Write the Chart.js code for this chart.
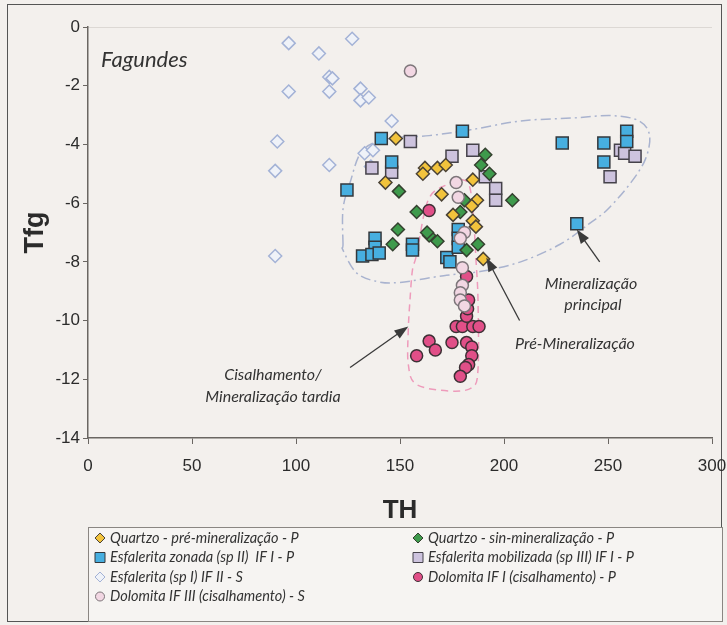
<!DOCTYPE html>
<html>
<head>
<meta charset="utf-8">
<script src="https://cdn.jsdelivr.net/npm/chart.js"></script>
<style>
  body { margin: 0; background: #f3f0ed; }
  #wrap { width: 727px; height: 625px; }
</style>
</head>
<body>
<div id="wrap"><canvas id="myChart" width="727" height="625"></canvas></div>
<script>
// data: [TH, Tfg]
const quartzoPre = [[148,-3.8],[162,-4.8],[161,-5.0],[168,-4.8],[172,-4.7],[143,-5.3],[185,-5.2],[170,-5.7],[187,-5.9],[184.5,-6.1],[175.5,-6.4],[185,-6.6],[186.5,-6.8],[190,-7.9]];
const quartzoSin = [[149.5,-5.6],[189,-4.7],[191,-4.35],[193,-5.0],[181,-5.9],[179,-6.3],[158,-6.3],[149,-6.9],[146.5,-7.4],[164,-7.1],[168,-7.3],[187.5,-7.4],[182,-7.6],[204,-5.9],[163,-7.0]];
const esfZonada = [[141,-3.8],[180,-3.55],[146,-4.6],[124.5,-5.55],[138,-7.2],[138,-7.5],[156,-7.4],[156,-7.6],[132,-7.8],[136.5,-7.75],[140,-7.7],[172.5,-7.85],[174,-8.0],[178,-6.9],[178,-7.2],[178,-7.5],[228,-3.95],[248,-3.95],[248,-4.6],[259,-3.55],[259,-3.9],[235,-6.7]];
const esfMobilizada = [[155,-3.9],[175,-4.4],[185,-4.2],[146,-4.95],[136.5,-4.8],[191,-5.1],[196,-5.5],[196,-5.9],[251,-5.1],[256,-4.2],[258,-4.3],[263,-4.4]];
const esfSpI = [[96.5,-0.55],[127,-0.4],[111,-0.9],[116,-1.7],[117.5,-1.75],[96.5,-2.2],[116,-2.2],[131,-2.1],[131,-2.5],[135,-2.4],[146,-3.2],[91,-3.9],[90,-4.9],[90,-7.8],[116,-4.7],[133,-4.3],[137,-4.2],[136,-4.75]];
const dolomitaI = [[164,-6.25],[182,-8.5],[158,-11.2],[164,-10.7],[167,-11.0],[177,-10.2],[180,-10.2],[185,-10.2],[188,-10.2],[182,-9.85],[182.5,-9.6],[175,-10.75],[182,-10.75],[184.5,-10.9],[184.5,-11.2],[183,-11.5],[181.5,-11.6],[179,-11.9],[183,-9.3]];
const dolomitaIII = [[155,-1.5],[177,-5.3],[178,-5.8],[181,-7.0],[179,-7.2],[180,-8.2],[180,-8.8],[179,-9.05],[179,-9.3],[181,-9.5]];

const xTicks = [0, 50, 100, 150, 200, 250, 300];
const yTicks = [0, -2, -4, -6, -8, -10, -12, -14];

const seriesNames = [
  "Quartzo - pré-mineralização - P",
  "Quartzo - sin-mineralização - P",
  "Esfalerita zonada (sp II)  IF I - P",
  "Esfalerita mobilizada (sp III) IF I - P",
  "Esfalerita (sp I) IF II - S",
  "Dolomita IF I (cisalhamento) - P",
  "Dolomita IF III (cisalhamento) - S"
];

// outlines drawn on the plot, in data units
const outlinePrincipal = [[122.6,-7.4],[122.6,-6.2],[126,-5.3],[132,-4.2],[145,-3.8],[164,-3.7],[184,-3.5],[208,-3.2],[233,-3.1],[252,-3.02],[265,-3.2],[270,-3.7],[268,-4.5],[261,-5.3],[250,-6.2],[241,-6.7],[227,-7.4],[208,-8.0],[188.5,-8.33],[171,-8.47],[150,-8.7],[139,-8.67],[129,-8.37],[122.6,-7.6]];
const outlineDolomita = [[158,-7.75],[163.5,-5.9],[172.5,-5.37],[180,-5.2],[183.7,-5.5],[185.6,-6.8],[186.5,-7.9],[187.5,-9.3],[187.5,-11.67],[184.6,-12.28],[174,-12.4],[158,-12.18],[154,-11.5],[154,-10.3],[154.8,-9.3],[156,-8.27]];

const toXY = arr => arr.map(p => ({x: p[0], y: p[1]}));

const pointStyles = [
  {pointStyle: "rectRot", radius: 6.5, backgroundColor: "#f2c33c", borderColor: "#4a4235"},
  {pointStyle: "rectRot", radius: 6.5, backgroundColor: "#3e9a4c", borderColor: "#34402f"},
  {pointStyle: "rect", radius: 8.5, backgroundColor: "#47afe0", borderColor: "#34383c"},
  {pointStyle: "rect", radius: 8.5, backgroundColor: "#cdc3de", borderColor: "#45424a"},
  {pointStyle: "rectRot", radius: 6.5, backgroundColor: "#eff2f8", borderColor: "#a3b2d6"},
  {pointStyle: "circle", radius: 6, backgroundColor: "#e14f88", borderColor: "#3d3035"},
  {pointStyle: "circle", radius: 6, backgroundColor: "#f2d7e3", borderColor: "#7d767a"}
];
const seriesData = [quartzoPre, quartzoSin, esfZonada, esfMobilizada, esfSpI, dolomitaI, dolomitaIII];
const drawOrder = [2, 3, 4, 5, 7, 1, 0];

const datasets = seriesData.map((d, i) => ({
  label: seriesNames[i],
  data: toXY(d),
  pointStyle: pointStyles[i].pointStyle,
  pointRadius: pointStyles[i].radius,
  pointHoverRadius: pointStyles[i].radius,
  pointBackgroundColor: pointStyles[i].backgroundColor,
  pointBorderColor: pointStyles[i].borderColor,
  backgroundColor: pointStyles[i].backgroundColor,
  borderColor: pointStyles[i].borderColor,
  pointBorderWidth: 1.5,
  order: drawOrder[i]
}));

function dashedShape(ctx, chart, pts, color, dash) {
  const xs = chart.scales.x, ys = chart.scales.y;
  const p = pts.map(q => [xs.getPixelForValue(q[0]), ys.getPixelForValue(q[1])]);
  ctx.save();
  ctx.strokeStyle = color;
  ctx.lineWidth = 1.5;
  ctx.setLineDash(dash);
  ctx.beginPath();
  // smooth closed curve through the points
  const n = p.length;
  for (let i = 0; i < n; i++) {
    const p0 = p[(i - 1 + n) % n], p1 = p[i], p2 = p[(i + 1) % n], p3 = p[(i + 2) % n];
    if (i === 0) ctx.moveTo(p1[0], p1[1]);
    ctx.bezierCurveTo(
      p1[0] + (p2[0] - p0[0]) / 6, p1[1] + (p2[1] - p0[1]) / 6,
      p2[0] - (p3[0] - p1[0]) / 6, p2[1] - (p3[1] - p1[1]) / 6,
      p2[0], p2[1]);
  }
  ctx.stroke();
  ctx.restore();
}

function arrow(ctx, chart, from, to) {
  const xs = chart.scales.x, ys = chart.scales.y;
  const x1 = xs.getPixelForValue(from[0]), y1 = ys.getPixelForValue(from[1]);
  const x2 = xs.getPixelForValue(to[0]), y2 = ys.getPixelForValue(to[1]);
  const a = Math.atan2(y2 - y1, x2 - x1);
  ctx.save();
  ctx.strokeStyle = "#3a3a3a";
  ctx.fillStyle = "#3a3a3a";
  ctx.lineWidth = 1.3;
  ctx.beginPath();
  ctx.moveTo(x1, y1);
  ctx.lineTo(x2 - 8 * Math.cos(a), y2 - 8 * Math.sin(a));
  ctx.stroke();
  ctx.beginPath();
  ctx.moveTo(x2, y2);
  ctx.lineTo(x2 - 14 * Math.cos(a) + 5 * Math.sin(a), y2 - 14 * Math.sin(a) - 5 * Math.cos(a));
  ctx.lineTo(x2 - 14 * Math.cos(a) - 5 * Math.sin(a), y2 - 14 * Math.sin(a) + 5 * Math.cos(a));
  ctx.closePath();
  ctx.fill();
  ctx.restore();
}

const decorations = {
  id: "decorations",
  beforeDraw(chart) {
    const ctx = chart.ctx;
    ctx.save();
    ctx.fillStyle = "#f3f0ed";
    ctx.fillRect(0, 0, chart.width, chart.height);
    // outer frame
    ctx.strokeStyle = "#555";
    ctx.lineWidth = 1;
    ctx.strokeRect(7.5, 4.5, 714, 617);
    // faint top edge of plot
    const a = chart.chartArea;
    ctx.strokeStyle = "#dcd8d4";
    ctx.beginPath();
    ctx.moveTo(a.left, a.top + 0.5);
    ctx.lineTo(a.right, a.top + 0.5);
    ctx.stroke();
    ctx.restore();
  },
  beforeDatasetsDraw(chart) {
    const ctx = chart.ctx;
    dashedShape(ctx, chart, outlinePrincipal, "#a9b3cf", [10, 4, 2, 4]);
    dashedShape(ctx, chart, outlineDolomita, "#ee9bbb", [7, 5]);
  },
  afterDatasetsDraw(chart) {
    const ctx = chart.ctx;
    arrow(ctx, chart, [246, -8.0], [235, -6.9]);
    arrow(ctx, chart, [207.5, -10.0], [191.5, -7.85]);
    arrow(ctx, chart, [126, -11.6], [154, -10.2]);

    ctx.save();
    ctx.fillStyle = "#333";
    ctx.textBaseline = "middle";
    ctx.font = "italic 22px Lato";
    ctx.textAlign = "left";
    ctx.fillText("Fagundes", 101, 60);
    ctx.font = "italic 16px Lato";
    ctx.textAlign = "center";
    ctx.fillText("Mineralização", 591, 284);
    ctx.fillText("principal", 593, 305);
    ctx.fillText("Pré-Mineralização", 575, 344);
    ctx.fillText("Cisalhamento/", 273, 375);
    ctx.fillText("Mineralização tardia", 273, 397);
    ctx.restore();
  },
  afterDraw(chart) {
    const ctx = chart.ctx;
    ctx.save();
    const bx = 88, by = 527, bw = 634, bh = 94;
    ctx.fillStyle = "#f6f4f2";
    ctx.fillRect(bx, by, bw, bh);
    ctx.strokeStyle = "#8a8682";
    ctx.lineWidth = 1;
    ctx.strokeRect(bx + 0.5, by + 0.5, bw, bh);
    const cols = [100, 418];
    const rows = [538, 557.5, 577, 596.5];
    ctx.font = "italic 14.5px Lato";
    ctx.textBaseline = "middle";
    ctx.textAlign = "left";
    chart.data.datasets.forEach((ds, i) => {
      const x = cols[i % 2], y = rows[Math.floor(i / 2)];
      ctx.fillStyle = ds.pointBackgroundColor;
      ctx.strokeStyle = ds.pointBorderColor;
      ctx.lineWidth = 1;
      ctx.beginPath();
      if (ds.pointStyle === "rect") ctx.rect(x - 5, y - 5, 10, 10);
      else if (ds.pointStyle === "circle") ctx.arc(x, y, 4.5, 0, Math.PI * 2);
      else { ctx.moveTo(x, y - 5); ctx.lineTo(x + 5, y); ctx.lineTo(x, y + 5); ctx.lineTo(x - 5, y); ctx.closePath(); }
      ctx.fill();
      ctx.stroke();
      ctx.fillStyle = "#333";
      ctx.fillText(ds.label, x + 10, y);
    });
    ctx.restore();
  }
};

let myChart = document.getElementById("myChart").getContext("2d");

Chart.defaults.font.family = "'Liberation Sans', Arial, sans-serif";
Chart.defaults.color = "#2b2b2b";

let fluidChart = new Chart(myChart, {
  type: "scatter",
  data: { datasets: datasets },
  options: {
    responsive: false,
    animation: false,
    events: [],
    layout: { padding: { top: 27, right: 15, bottom: 97, left: 0 } },
    plugins: {
      legend: { display: false },
      tooltip: { enabled: false }
    },
    scales: {
      x: {
        type: "linear",
        min: 0,
        max: 300,
        afterBuildTicks: s => { s.ticks = xTicks.map(v => ({ value: v })); },
        afterFit: s => { s.height = 90; s.paddingLeft = 0; s.paddingRight = 0; },
        ticks: { font: { size: 17 }, padding: 12, color: "#2b2b2b" },
        grid: { drawOnChartArea: false, tickLength: 6, color: "#6a6662" },
        border: { color: "#6a6662", width: 1.5 },
        title: { display: true, text: "TH", font: { size: 26, weight: "bold" }, color: "#2b2b2b", padding: { top: 0, bottom: 2 } }
      },
      y: {
        type: "linear",
        min: -14,
        max: 0,
        afterBuildTicks: s => { s.ticks = yTicks.map(v => ({ value: v })); },
        afterFit: s => { s.width = 88; s.paddingTop = 0; s.paddingBottom = 0; },
        ticks: { font: { size: 17 }, padding: 3, color: "#2b2b2b" },
        grid: { drawOnChartArea: false, tickLength: 5, color: "#6a6662" },
        border: { color: "#6a6662", width: 1.5 },
        title: { display: true, text: "Tfg", font: { size: 27, weight: "bold" }, color: "#2b2b2b", padding: { top: 19, bottom: 0 } }
      }
    }
  },
  plugins: [decorations]
});
</script>
</body>
</html>
